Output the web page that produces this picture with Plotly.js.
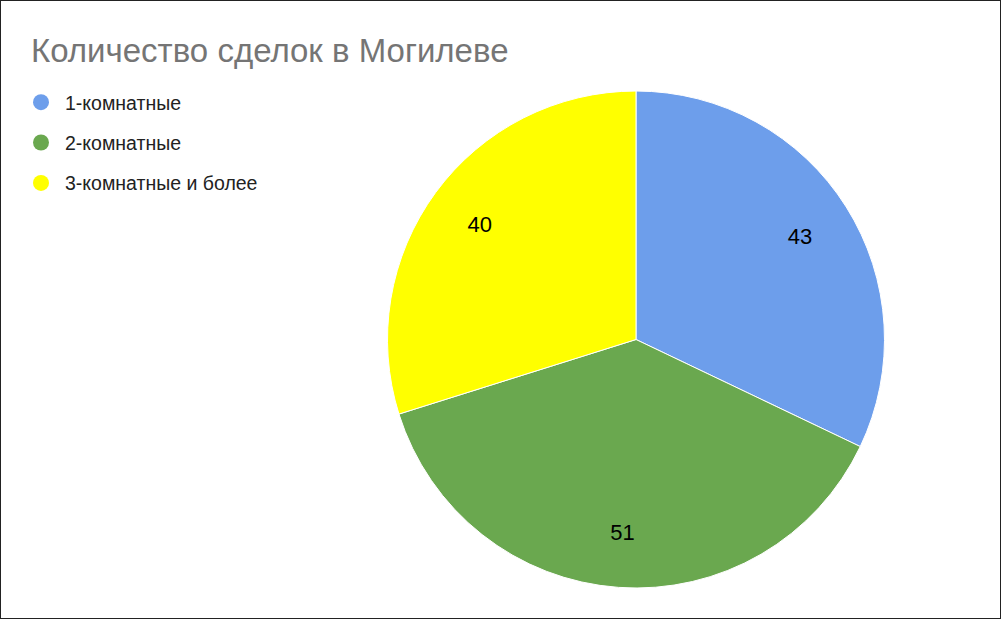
<!DOCTYPE html>
<html>
<head>
<meta charset="utf-8">
<script src="https://cdn.plot.ly/plotly-3.0.1.min.js"></script>
<style>
  html, body { margin: 0; padding: 0; background: #fff; }
  #wrap { position: relative; width: 1001px; height: 619px; }
  #chart { width: 1001px; height: 619px; }
  #frame { position: absolute; left: 0; top: 0; width: 999px; height: 617px; border: 1px solid #222; pointer-events: none; }
</style>
</head>
<body>
<div id="wrap">
  <div id="chart"></div>
  <div id="frame"></div>
</div>
<script>
// Данные диаграммы
var categories = ['1-комнатные', '2-комнатные', '3-комнатные и более'];
var values = [43, 51, 40];
var colors = ['#6D9EEB', '#6AA84F', '#FFFF00'];

var pieDomain = { x: [387 / 1001, 885 / 1001], y: [31 / 619, 528 / 619] };

// Сплошной круг (без подписей)
var pieBase = {
    type: 'pie',
    labels: categories,
    values: values,
    sort: false,
    direction: 'clockwise',
    rotation: 0,
    textinfo: 'none',
    marker: { colors: colors, line: { color: '#ffffff', width: 1 } },
    domain: pieDomain,
    showlegend: false,
    hoverinfo: 'skip'
};

// Прозрачное кольцо сверху - только чтобы подписи стояли ближе к краю
var pieLabels = {
    type: 'pie',
    labels: categories,
    values: values,
    sort: false,
    direction: 'clockwise',
    rotation: 0,
    hole: 0.56,
    textinfo: 'value',
    textposition: 'inside',
    insidetextorientation: 'horizontal',
    textfont: { family: 'Liberation Sans, Arial, sans-serif', size: 22, color: '#000000' },
    marker: { colors: categories.map(function () { return 'rgba(0,0,0,0)'; }), line: { width: 0 } },
    domain: pieDomain,
    showlegend: false,
    hoverinfo: 'label+value+percent'
};

// Легенда с круглыми маркерами (пустые точки, только для легенды)
var legendTraces = categories.map(function (name, i) {
    return {
        type: 'scatter',
        mode: 'markers',
        x: [null],
        y: [null],
        name: name,
        legendgroup: 'g' + i,
        marker: { color: colors[i], size: 18, symbol: 'circle' },
        hoverinfo: 'skip'
    };
});

var data = [pieBase, pieLabels].concat(legendTraces);

var layout = {
    width: 1001,
    height: 619,
    margin: { l: 0, r: 0, t: 0, b: 0 },
    paper_bgcolor: '#ffffff',
    plot_bgcolor: '#ffffff',
    title: {
        text: 'Количество сделок в Могилеве',
        font: { family: 'Liberation Sans, Arial, sans-serif', size: 33, color: '#757575' },
        x: 31 / 1001,
        xanchor: 'left',
        xref: 'paper',
        y: 1 - 50 / 619,
        yanchor: 'middle',
        yref: 'paper'
    },
    xaxis: { visible: false },
    yaxis: { visible: false },
    legend: {
        x: 17 / 1001,
        xanchor: 'left',
        y: 1 - 83 / 619,
        yanchor: 'top',
        traceorder: 'grouped',
        tracegroupgap: 12,
        itemwidth: 38,
        font: { family: 'Liberation Sans, Arial, sans-serif', size: 19.5, color: '#222222' },
        bgcolor: 'rgba(0,0,0,0)'
    }
};

Plotly.newPlot('chart', data, layout, { displayModeBar: false });
</script>
</body>
</html>
